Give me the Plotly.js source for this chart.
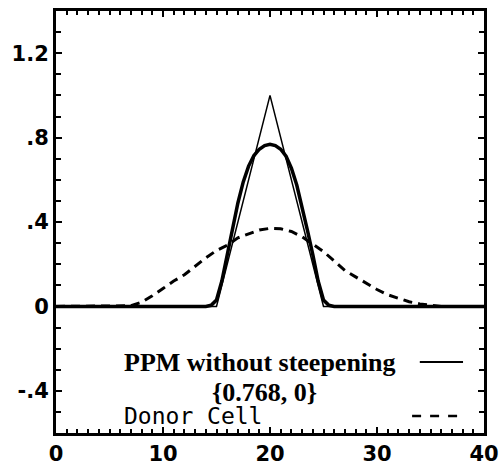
<!DOCTYPE html>
<html>
<head>
<meta charset="utf-8">
<script src="https://cdn.plot.ly/plotly-3.0.1.min.js"></script>
<style>html,body{margin:0;padding:0;background:#fff;}#chart{width:502px;height:470px;}.modebar-container{display:none !important;}</style>
</head>
<body>
<div id="chart"></div>
<script>
// Exact solution (thin triangle)
const xExact = [0, 15, 20, 25, 40];
const yExact = [0, 0, 1, 0, 0];

// PPM without steepening (thick solid), peak 0.768
const xPPM = [0, 14, 14.5, 15, 15.5, 16, 16.5, 17, 17.5, 18, 18.5, 19, 19.5, 20,
              20.5, 21, 21.5, 22, 22.5, 23, 23.5, 24, 24.5, 25, 25.5, 26, 40];
const yPPM = [0, 0, 0.005, 0.03, 0.12, 0.25, 0.37, 0.49, 0.59, 0.665, 0.715, 0.745, 0.762, 0.768,
              0.762, 0.745, 0.712, 0.655, 0.575, 0.475, 0.36, 0.245, 0.12, 0.03, 0.005, 0, 0];

// Donor Cell (dashed)
const xDonor = [0, 6, 7, 8, 9, 10, 11, 12, 13, 14, 15, 16, 17, 18, 19, 20, 21, 22, 23,
                24, 25, 26, 27, 28, 29, 30, 31, 32, 33, 34, 35, 36, 40];
const yDonor = [0, 0, 0.003, 0.02, 0.05, 0.085, 0.12, 0.15, 0.19, 0.23, 0.265, 0.29, 0.325, 0.345,
                0.362, 0.37, 0.368, 0.355, 0.33, 0.295, 0.26, 0.215, 0.17, 0.14, 0.11, 0.08,
                0.055, 0.037, 0.022, 0.012, 0.005, 0, 0];

// Axis tick labels
const xTickVals = [0, 10, 20, 30, 40];
const xTickText = ['0', '10', '20', '30', '40'];
const yTickVals = [-0.4, 0, 0.4, 0.8, 1.2];
const yTickText = ['-.4', '0', '.4', '.8', '1.2'];

// Legend texts
const legendPPM = 'PPM without steepening';
const legendPPMValues = '{0.768, 0}';
const legendDonor = 'Donor Cell';

const xRange = [0, 40];
const yRange = [-0.6, 1.4];

const bold = s => '<b>' + s + '</b>';

const traces = [
  {x: xDonor, y: yDonor, mode: 'lines', line: {color: 'black', width: 3, dash: '9px,6px'}, showlegend: false},
  {x: xExact, y: yExact, mode: 'lines', line: {color: 'black', width: 1.5}, showlegend: false},
  {x: xPPM, y: yPPM, mode: 'lines', line: {color: 'black', width: 3.5}, showlegend: false}
];

const tickFont = {family: 'DejaVu Sans', size: 21, color: 'black'};

const layout = {
  width: 502, height: 470,
  margin: {l: 56, r: 18, t: 11, b: 37},
  showlegend: false,
  xaxis: {
    range: xRange, tickmode: 'array', tickvals: xTickVals, ticktext: xTickText.map(bold),
    ticks: 'inside', ticklen: 6, tickwidth: 2, tickcolor: 'black',
    minor: {tickmode: 'linear', tick0: 0, dtick: 1, ticks: 'inside', ticklen: 4, tickwidth: 1.5, tickcolor: 'black'},
    showline: true, linecolor: 'black', linewidth: 3, mirror: 'ticks',
    showgrid: false, zeroline: false, tickfont: tickFont
  },
  yaxis: {
    range: yRange, tickmode: 'array', tickvals: yTickVals, ticktext: yTickText.map(bold),
    ticks: 'inside', ticklen: 6, tickwidth: 2, tickcolor: 'black',
    minor: {tickmode: 'linear', tick0: 0, dtick: 0.1, ticks: 'inside', ticklen: 5, tickwidth: 1.5, tickcolor: 'black'},
    showline: true, linecolor: 'black', linewidth: 3, mirror: 'ticks',
    showgrid: false, zeroline: false, tickfont: tickFont
  },
  annotations: [
    {text: bold(legendPPM), xref: 'paper', yref: 'paper', x: 0.1535, y: 0.168, xanchor: 'left', yanchor: 'middle',
     showarrow: false, font: {family: 'Liberation Serif', size: 26, color: 'black'}},
    {text: bold(legendPPMValues), xref: 'paper', yref: 'paper', x: 0.36, y: 0.097, xanchor: 'left', yanchor: 'middle',
     showarrow: false, font: {family: 'Liberation Serif', size: 26, color: 'black'}},
    {text: legendDonor, xref: 'paper', yref: 'paper', x: 0.1535, y: 0.040, xanchor: 'left', yanchor: 'middle',
     showarrow: false, font: {family: 'DejaVu Sans Mono', size: 23, color: 'black'}}
  ],
  shapes: [
    {type: 'line', xref: 'paper', yref: 'paper', x0: 0.850, x1: 0.951, y0: 0.168, y1: 0.168, line: {color: 'black', width: 2}},
    {type: 'line', xref: 'paper', yref: 'paper', x0: 0.832, x1: 0.951, y0: 0.040, y1: 0.040, line: {color: 'black', width: 2.5, dash: 'dash'}}
  ]
};

Plotly.newPlot('chart', traces, layout);
</script>
</body>
</html>
